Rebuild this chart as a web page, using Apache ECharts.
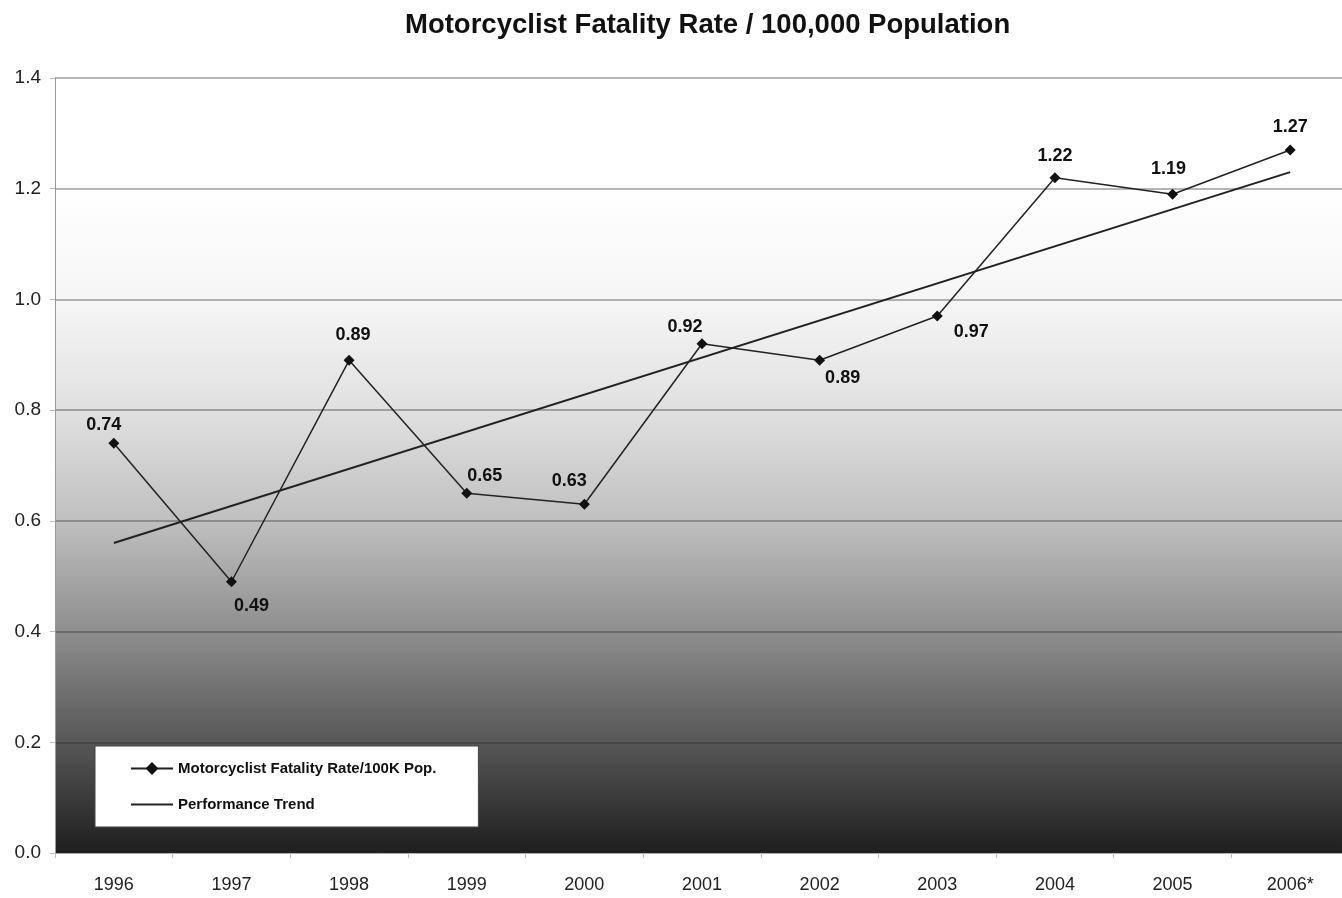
<!DOCTYPE html>
<html>
<head>
<meta charset="utf-8">
<title>Motorcyclist Fatality Rate</title>
<script src="https://cdn.jsdelivr.net/npm/echarts@6/dist/echarts.min.js"></script>
<style>
  html, body { margin: 0; padding: 0; background: #fff; }
  #main { width: 1342px; height: 898px; }
</style>
</head>
<body>
<div id="main"></div>
<script>
// data
const years = ['1996', '1997', '1998', '1999', '2000', '2001', '2002', '2003', '2004', '2005', '2006*'];
const fatalityRate = [0.74, 0.49, 0.89, 0.65, 0.63, 0.92, 0.89, 0.97, 1.22, 1.19, 1.27];
// trend is a straight line: only its two ends are read, the rest is joined
const trendValues = [0.56, null, null, null, null, null, null, null, null, null, 1.23];

// where each value label sits relative to its point
const labelOffsets = [[-10, -18], [20, 24], [4, -25], [18, -17], [-15, -23], [-17, -17],
  [23, 18], [34, 16], [0, -22], [-4, -25], [0, -23]];

const chart = echarts.init(document.getElementById('main'));
const font = '"Liberation Sans", Arial, sans-serif';

const option = {
  animation: false,
  title: {
    text: 'Motorcyclist Fatality Rate / 100,000 Population',
    left: 400,
    top: 6,
    textStyle: { fontFamily: font, fontSize: 27.5, fontWeight: 'bold', color: '#111' }
  },
  legend: {
    orient: 'vertical',
    left: 95,
    top: 746,
    padding: [15, 42, 15, 35],
    itemGap: 21,
    itemWidth: 42,
    itemHeight: 16,
    backgroundColor: '#fff',
    borderColor: '#444',
    borderWidth: 1,
    textStyle: { fontFamily: font, fontSize: 15, fontWeight: 'bold', color: '#111' },
    data: [
      'Motorcyclist Fatality Rate/100K Pop.',
      { name: 'Performance Trend', itemStyle: { color: 'rgba(0,0,0,0)', borderWidth: 0 } }
    ]
  },
  grid: {
    left: 55,
    width: 1294,
    top: 78,
    bottom: 45,
    outerBoundsMode: 'none',
    show: true,
    borderWidth: 0,
    backgroundColor: new echarts.graphic.LinearGradient(0, 0, 0, 1, [
      { offset: 0, color: '#ffffff' },
      { offset: 0.14, color: '#ffffff' },
      { offset: 0.285, color: '#f6f6f6' },
      { offset: 0.43, color: '#e0e0e0' },
      { offset: 0.57, color: '#c0c0c0' },
      { offset: 0.714, color: '#8e8e8e' },
      { offset: 0.857, color: '#575757' },
      { offset: 1, color: '#1e1e1e' }
    ])
  },
  xAxis: {
    type: 'category',
    data: years,
    boundaryGap: true,
    axisLine: { show: true, lineStyle: { color: '#aaa' } },
    axisTick: { show: true, length: 5, lineStyle: { color: '#bbb' } },
    axisLabel: { fontFamily: font, fontSize: 18, color: '#222', margin: 23 }
  },
  yAxis: {
    type: 'value',
    min: 0,
    max: 1.4,
    interval: 0.2,
    axisLine: { show: true, lineStyle: { color: '#999' } },
    axisTick: { show: true, length: 5, lineStyle: { color: '#bbb' } },
    axisLabel: {
      fontFamily: font, fontSize: 19, color: '#222', margin: 14,
      formatter: v => v.toFixed(1)
    },
    splitLine: { show: true, lineStyle: { color: 'rgba(40,40,40,0.45)', width: 1.5 } }
  },
  series: [
    {
      name: 'Motorcyclist Fatality Rate/100K Pop.',
      type: 'line',
      data: fatalityRate.map((v, i) => ({
        value: v,
        label: { offset: labelOffsets[i] }
      })),
      symbol: 'diamond',
      symbolSize: 11,
      z: 3,
      lineStyle: { color: '#222', width: 1.5 },
      itemStyle: { color: '#111' },
      label: {
        show: true,
        position: 'inside',
        fontFamily: font,
        fontSize: 18,
        fontWeight: 'bold',
        color: '#111',
        formatter: p => p.value.toFixed(2)
      }
    },
    {
      name: 'Performance Trend',
      type: 'line',
      data: trendValues,
      connectNulls: true,
      symbol: 'none',
      z: 2,
      lineStyle: { color: '#222', width: 2 },
      itemStyle: { color: '#222' }
    }
  ]
};

option && chart.setOption(option);
</script>
</body>
</html>
